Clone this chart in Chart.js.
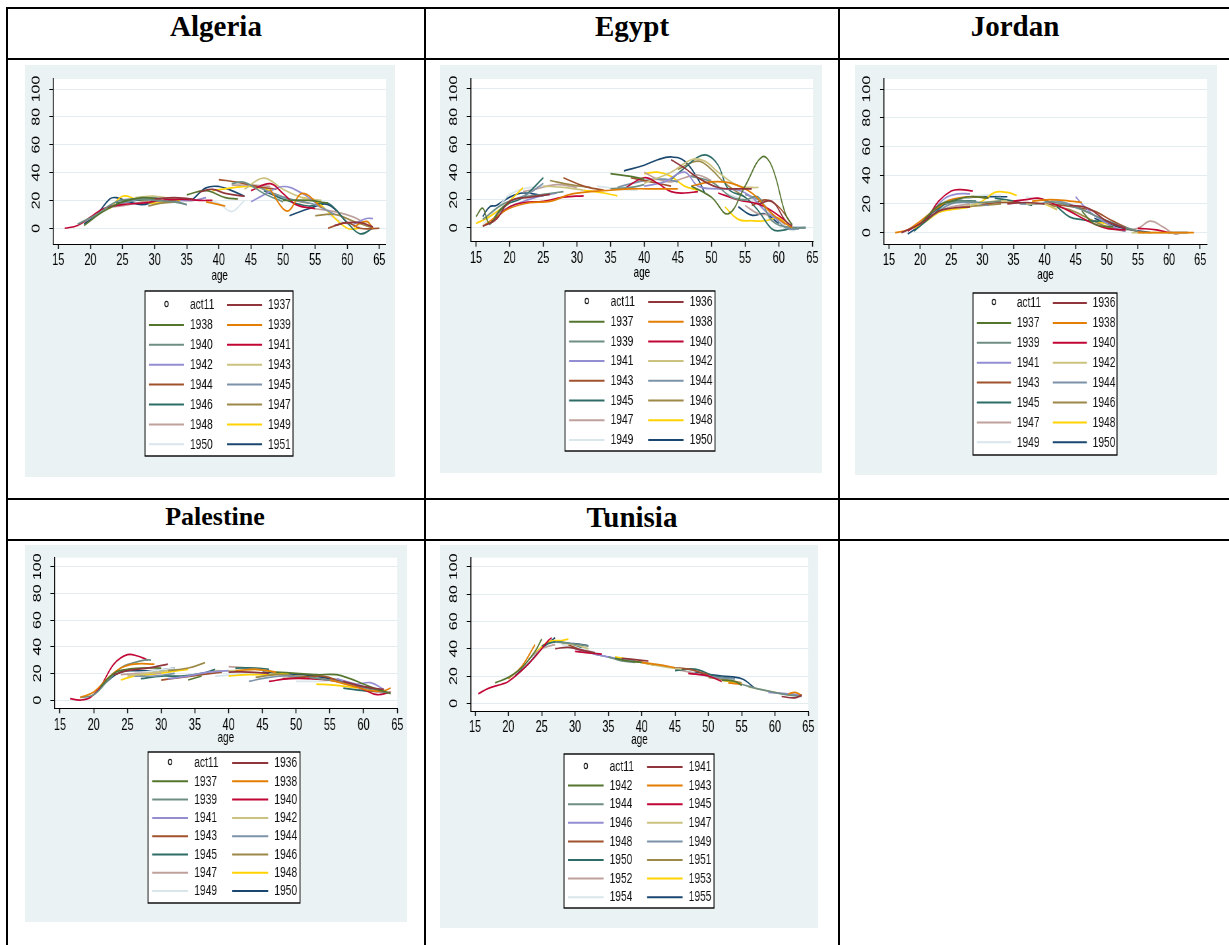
<!DOCTYPE html>
<html>
<head>
<meta charset="utf-8">
<script src="https://cdn.jsdelivr.net/npm/chart.js@4.4.1/dist/chart.umd.min.js"></script>
<style>
body { margin: 0; background: #fff; }
#page { position: relative; width: 1229px; height: 945px; overflow: hidden; }
.ln { position: absolute; background: #000; }
.title { position: absolute; width: 320px; text-align: center; font-family: "Liberation Serif", "Times New Roman", serif; font-weight: bold; color: #000; white-space: nowrap; }
canvas.panel { position: absolute; transform-origin: 0 0; }
</style>
</head>
<body>
<div id="page">
  <div class="ln" style="left:6px;top:7px;width:1223px;height:2px"></div>
  <div class="ln" style="left:6px;top:58px;width:1223px;height:2px"></div>
  <div class="ln" style="left:6px;top:498px;width:1223px;height:2px"></div>
  <div class="ln" style="left:6px;top:539px;width:1223px;height:2px"></div>
  <div class="ln" style="left:6px;top:7px;width:2px;height:938px"></div>
  <div class="ln" style="left:424px;top:7px;width:2px;height:938px"></div>
  <div class="ln" style="left:838px;top:7px;width:2px;height:938px"></div>
</div>
<script>
// chart values
var countries = ['Algeria', 'Egypt', 'Jordan', 'Palestine', 'Tunisia'];
var xTicks = [15, 20, 25, 30, 35, 40, 45, 50, 55, 60, 65];
var yTicks = [0, 20, 40, 60, 80, 100];

var algeriaYears = ['1937', '1938', '1939', '1940', '1941', '1942', '1943', '1944', '1945', '1946', '1947', '1948', '1949', '1950', '1951'];
var algeriaLines = [
    [[[30, 21], [33, 22], [36, 21]], [[37, 26], [39, 28], [41, 25], [44, 23]], [[58, 2], [60, 4], [62, 4], [64, 1]]],
    [[[19, 2], [22, 12], [25, 19], [28, 22], [31, 21]], [[35, 24], [38, 27], [41, 22], [43, 21]], [[50, 20], [54, 20], [57, 18]]],
    [[[38, 19], [40, 17], [41, 16]], [[48, 28], [50, 14], [51, 13], [53, 25], [56, 15]], [[61, 1], [63, 5], [64, 0]]],
    [[[18, 3], [21, 10], [24, 19], [27, 21], [30, 20], [33, 19], [35, 17]], [[42, 32], [44, 33], [47, 25], [50, 19]]],
    [[[16, 0], [18, 2], [20, 8], [22, 14], [25, 17], [28, 18], [31, 20], [34, 21], [37, 20], [39, 20]], [[45, 27], [48, 32], [50, 25], [52, 17], [55, 14]]],
    [[[34, 20], [36, 20], [38, 22]], [[45, 19], [47, 24], [50, 30], [53, 25], [56, 15]], [[61, 3], [63, 7], [64, 7]]],
    [[[27, 22], [30, 23], [33, 21]], [[44, 28], [47, 36], [50, 28], [53, 22], [56, 20]]],
    [[[32, 20], [35, 21]], [[40, 35], [43, 33], [46, 30], [49, 28]], [[57, 0], [60, 4], [62, 0], [65, 0]]],
    [[[23, 16], [26, 19], [29, 22], [32, 21], [35, 17]], [[46, 30], [49, 24], [52, 20], [55, 17], [58, 10]]],
    [[[24, 18], [27, 20], [30, 21]], [[47, 27], [50, 21], [54, 16], [57, 18], [60, 4], [62, -4], [64, 0]]],
    [[[29, 16], [31, 18], [34, 19]], [[48, 26], [51, 21], [54, 18]], [[55, 9], [58, 10], [61, 5], [64, 0]]],
    [[[23, 15], [26, 17], [29, 20]], [[42, 31], [45, 31], [48, 30]], [[55, 14], [58, 12], [61, 8], [63, 3]]],
    [[[23, 14], [25, 23], [27, 21], [30, 18], [33, 20], [36, 20]], [[39, 27], [42, 29], [45, 30], [48, 27]], [[53, 22], [55, 20], [57, 12], [60, 0], [62, 0]]],
    [[[38, 20], [40, 18], [42, 12], [44, 20]], [[57, 10], [60, 3], [62, 1]]],
    [[[19, 3], [21, 10], [23, 21], [24, 22], [26, 19], [28, 17], [30, 19]], [[36, 21], [38, 29], [40, 30], [42, 27], [44, 23]], [[51, 9], [54, 14], [57, 17], [60, 4]]]
];

var egyptYears = ['1936', '1937', '1938', '1939', '1940', '1941', '1942', '1943', '1944', '1945', '1946', '1947', '1948', '1949', '1950'];
var egyptLines = [
    [[[16, 1], [18, 6], [20, 19], [23, 22], [26, 24]], [[44, 49], [46, 43], [48, 36], [51, 29], [54, 28], [56, 28]], [[57, 17], [59, 19], [61, 5], [62, 1]]],
    [[[15, 8], [16, 14], [17, 3], [18.5, 12], [20, 18]], [[35, 39], [38, 37], [40, 35]], [[47, 30], [50, 22], [52.5, 10], [55, 30], [57.5, 51], [59, 44], [61, 10], [62, 2]]],
    [[[16, 1], [18, 8], [20, 14], [23, 18], [26, 19], [29, 24], [32, 26], [35, 27], [38, 28], [42, 28], [45, 28]], [[47, 30], [50, 33], [53, 32], [56, 25], [59, 10], [61, 3], [62, 0]]],
    [[[16, 6], [19, 17], [22, 22], [25, 24], [28, 26]], [[35, 28], [38, 29], [40, 31]], [[47, 37], [50, 33], [53, 22], [55, 20], [57, 22], [59, 5], [62, 0], [64, 0]]],
    [[[17, 3], [20, 15], [22, 18], [25, 19], [28, 22], [31, 23]], [[37, 28], [40, 36], [42, 32], [44, 26], [46, 25], [48, 26]], [[51, 25], [54, 20], [57, 17], [59, 12], [61, 5]]],
    [[[18, 10], [21, 17], [24, 22], [27, 25]], [[40, 30], [43, 33], [46, 40], [48, 30], [51, 28], [54, 27], [56, 22], [58, 12], [60, 5]]],
    [[[25, 30], [28, 29], [31, 27]], [[40, 32], [44, 40], [47, 49], [49, 48], [51, 40], [54, 30], [56, 29], [57, 29]]],
    [[[28, 36], [31, 30], [34, 27]], [[38, 36], [41, 33], [44, 30]], [[56, 16], [58, 20], [60, 15], [62, 2]]],
    [[[20, 19], [23, 25], [25, 32]], [[36, 29], [40, 34], [43, 35], [45, 33]], [[55, 24], [57, 20], [59, 10], [61, 0], [63, -1]]],
    [[[17, 2], [19, 15], [22, 22], [25, 36]], [[44, 35], [46, 43], [48, 51], [49.5, 52], [51, 45], [52.5, 28], [55, 22], [57, 12], [59, -1], [60.5, -2], [62, 0]]],
    [[[26, 34], [29, 31], [32, 29]], [[45, 42], [48, 48], [50, 42], [52, 32], [55, 22]]],
    [[[22, 26], [24, 28], [27, 31], [30, 29]], [[40, 40], [42, 35], [44, 33], [46, 36], [48, 38], [50, 34]], [[55, 16], [57, 10], [59, 9], [61, 2]]],
    [[[15, 3], [17, 8], [19, 15], [21, 24], [22, 29]], [[31, 27], [34, 25], [36, 23]], [[40, 39], [42, 40], [44, 37], [46, 30], [48, 27]], [[52, 15], [54, 6], [56, 5], [58, 5], [60, 7], [61, 3]]],
    [[[16, 2], [19, 19], [20, 24], [22, 28], [25, 30]], [[33, 30], [36, 28], [39, 27]], [[52, 25], [55, 20], [57, 18], [59, 5], [62, -2], [63, 0]]],
    [[[16, 8], [17, 15], [18, 16], [20, 22], [22, 25], [25, 23]], [[37, 41], [40, 45], [42, 49], [44, 51], [46, 48], [48, 35], [49, 25]], [[54, 15], [56, 9], [58, 10], [60, 3]], [[62, 0], [64, 0]]]
];

var jordanYears = ['1936', '1937', '1938', '1939', '1940', '1941', '1942', '1943', '1944', '1945', '1946', '1947', '1948', '1949', '1950'];
var jordanLines = [
    [[[17, 0], [20, 6], [23, 15], [25, 17], [28, 18]], [[34, 20], [37, 21], [40, 20]], [[44, 19], [47, 17], [50, 8], [53, 3]]],
    [[[20, 6], [23, 19], [25, 22], [28, 25], [31, 24]], [[46, 15], [48, 6], [51, 4]]],
    [[[16, 0], [18, 2], [20, 8], [23, 18], [25, 23], [28, 25], [31, 24]], [[38, 22], [41, 23], [44, 22], [46, 21]], [[55, 0], [58, 0], [60, 0], [64, 0]]],
    [[[24, 20], [27, 22], [30, 21], [33, 22]], [[40, 22], [43, 20], [46, 16], [49, 10], [52, 5], [55, 1]]],
    [[[18, 1], [21, 10], [23, 22], [25, 29], [26.5, 30], [28.5, 29]], [[35, 22], [37, 23], [39, 24], [41, 21], [44, 15], [47, 8], [50, 3], [53, 2]], [[55, 3], [58, 2], [60, 0]]],
    [[[22, 15], [24, 24], [26, 27], [28, 27]], [[45, 25], [46, 20], [48, 12], [51, 4], [53, 1]]],
    [[[26, 17], [29, 20], [32, 22], [34, 22]], [[37, 20], [40, 20], [42, 16]], [[54, 0], [57, 0], [60, 0], [63, 0]]],
    [[[30, 20], [33, 21], [36, 21]], [[40, 20], [43, 19], [46, 17], [48, 15], [51, 8], [54, 2], [56, 0]]],
    [[[22, 12], [25, 20], [28, 21], [31, 19]], [[36, 20], [39, 20], [42, 22], [45, 18], [48, 12], [51, 6]]],
    [[[19, 1], [22, 12], [24, 20], [26, 22], [29, 22]], [[32, 24], [35, 22], [38, 19]], [[42, 18], [44, 11], [46, 9], [48, 8], [50, 8], [53, 3], [55, 1]]],
    [[[27, 18], [30, 19], [33, 20]], [[41, 19], [44, 16], [47, 10], [50, 4], [53, 1]]],
    [[[23, 15], [25, 18], [28, 20]], [[36, 21], [39, 20]], [[53, 2], [55, 3], [57, 8], [59, 4], [61, -1], [62, 0]]],
    [[[19, 3], [21, 8], [23, 14], [25, 16], [28, 18], [30, 22], [32, 28], [34, 28], [35.5, 26]], [[40, 20], [42, 16]], [[47, 9], [50, 6], [52, 2]]],
    [[[22, 15], [24, 22], [27, 24], [30, 26], [33, 26]], [[37, 25], [40, 22], [43, 21]]],
    [[[18, -1], [20, 5], [22, 14], [24, 20], [27, 24], [30, 25], [33, 25], [34, 25]], [[48, 10], [51, 5], [54, 2], [57, 0]], [[60, 0], [62, 0], [63, 0]]]
];

var palestineYears = ['1936', '1937', '1938', '1939', '1940', '1941', '1942', '1943', '1944', '1945', '1946', '1947', '1948', '1949', '1950'];
var palestineLines = [
    [[[23, 19], [25, 22], [28, 24], [31, 27]], [[40, 21], [43, 21], [46, 20]], [[57, 14], [60, 10], [63, 8]]],
    [[[21, 10], [23, 20], [25, 23], [27, 24], [30, 24]], [[34, 15], [36, 18]], [[47, 21], [50, 20], [53, 19], [56, 19], [58, 16], [60, 12], [62, 8], [64, 5]]],
    [[[18, 2], [20, 6], [22, 16], [24, 24], [26, 27], [29, 27]], [[41, 22], [44, 23], [47, 21]], [[55, 15], [58, 11], [61, 7], [63, 7], [64, 9]]],
    [[[18, 2], [20, 4], [22, 14], [24, 24], [26, 28], [27.5, 30], [28.5, 30]], [[52, 17], [55, 15], [58, 12], [61, 8], [64, 5]]],
    [[[16.5, 1], [18, 0], [19.5, 2], [21, 10], [23, 27], [25, 34], [26.5, 33], [28, 30]], [[46, 14], [49, 16], [52, 16], [55, 15], [58, 12], [60, 8], [62, 4], [64, 6]]],
    [[[31, 16], [34, 18], [37, 21], [40, 22]], [[56, 16], [59, 12], [61, 13], [63, 8]]],
    [[[25, 18], [28, 20], [31, 22]], [[38, 22], [41, 22], [44, 23], [47, 21]]],
    [[[30, 15], [33, 17], [36, 19], [39, 21]], [[48, 16], [51, 17], [54, 18], [57, 13]]],
    [[[26, 18], [29, 18], [32, 20]], [[43, 14], [46, 17], [49, 18], [52, 16]]],
    [[[27, 16], [30, 18], [33, 18], [36, 20], [38, 23]], [[41, 24], [44, 24], [46, 23]], [[57, 9], [60, 7], [62, 7]]],
    [[[31, 22], [34, 24], [36.5, 28]], [[44, 17], [47, 19], [50, 18], [53, 17]]],
    [[[24, 19], [27, 20], [30, 20]], [[40, 25], [43, 24], [46, 22]], [[59, 8], [62, 6], [64, 5]]],
    [[[24, 15], [26, 18], [28, 19], [31, 21], [34, 23]], [[40, 18], [43, 19], [46, 19], [49, 20]], [[53, 12], [56, 11], [59, 9]]],
    [[[26, 20], [29, 22], [32, 24]], [[38, 18], [41, 19], [44, 20]], [[50, 14], [53, 14], [56, 15]]],
    [[[20, 4], [22, 14], [24, 21], [26, 22], [29, 22], [32, 24]], [[45, 21], [48, 20], [51, 19], [54, 17], [57, 14], [60, 10], [63, 7]]]
];

var tunisiaYears = ['1941', '1942', '1943', '1944', '1945', '1946', '1947', '1948', '1949', '1950', '1951', '1952', '1953', '1954', '1955'];
var tunisiaLines = [
    [[[27, 40], [29, 41], [31, 39], [33, 37]], [[37, 33], [39, 32], [41, 31]], [[61, 5], [63, 4], [64, 6]]],
    [[[18, 15], [20, 19], [22, 26], [24, 38], [25, 47]], [[36, 33], [38, 31], [40, 30]], [[52, 17], [54, 16], [55, 13]]],
    [[[20, 18], [22, 27], [24, 43]], [[40, 30], [43, 28], [45, 26]], [[53, 15], [55, 14]], [[62, 7], [63, 8], [64, 6]]],
    [[[27, 45], [29, 44], [32, 42]], [[35, 34], [37, 31], [39, 30]], [[55, 14], [58, 10], [61, 7], [64, 5]]],
    [[[15.5, 7], [17, 11], [19, 14], [20, 16], [22, 24], [24, 34], [26, 46], [26.5, 48]], [[30, 38], [32, 37], [34, 36]], [[47, 22], [50, 20], [52, 16]]],
    [[[30, 40], [33, 36], [36, 33]], [[59, 8], [62, 7], [64, 6]]],
    [[[28, 44], [30, 43], [32, 40]], [[40, 30], [43, 27], [46, 25]], [[56, 12], [59, 9], [61, 7]]],
    [[[29, 43], [31, 39], [34, 35]], [[45, 26], [47, 25], [50, 21]]],
    [[[33, 36], [36, 33], [39, 31]], [[49, 21], [51, 19], [54, 18]]],
    [[[25, 42], [27, 45], [29, 44], [31, 41]], [[45, 24], [48, 25], [51, 20], [54, 18]]],
    [[[37, 32], [40, 30], [42, 28]], [[50, 19], [53, 17], [55, 15]]],
    [[[23, 32], [25, 40], [27, 43]], [[45, 25], [48, 22], [51, 20]]],
    [[[24, 37], [26, 45], [28, 46], [29, 47]], [[36, 34], [39, 31], [42, 28]], [[52, 17], [54, 15]]],
    [[[28, 43], [31, 40], [34, 36]], [[42, 29], [45, 26], [48, 23]]],
    [[[21, 20], [23, 29], [25, 40], [27, 48]], [[29, 44], [31, 43], [32, 42]], [[46, 25], [49, 22], [52, 20], [55, 18], [57, 11]]]
];

// Stata s2color pstyle colours, p1..p15
var palette = ['#1a476f', '#90353b', '#55752f', '#e37e00', '#6e8e84', '#c10534', '#938dd2', '#cac27e',
    '#a0522d', '#7b92a8', '#2d6d66', '#9c8847', '#bfa19c', '#ffd200', '#d9e6eb'];

// the graphs were squeezed sideways when pasted into the table
var S = 0.66;
var FONT = '"Liberation Sans", Arial, sans-serif';
Chart.defaults.font.family = FONT;
var page = document.getElementById('page');

function toPoints(segments) {
    var pts = [];
    segments.forEach(function (seg, k) {
        if (k > 0) pts.push({ x: seg[0][0], y: null });
        seg.forEach(function (p) { pts.push({ x: p[0], y: p[1] }); });
    });
    return pts;
}

var bgPlugin = {
    id: 'stataBg',
    beforeDraw: function (chart) {
        var ctx = chart.ctx, a = chart.chartArea;
        ctx.save();
        ctx.fillStyle = '#eaf2f3';
        ctx.fillRect(0, 0, chart.width, chart.height);
        ctx.fillStyle = '#fff';
        ctx.fillRect(a.left, a.top, a.right - a.left, a.bottom - a.top);
        ctx.restore();
    }
};

// y labels are vertical in Stata
var yLabelPlugin = {
    id: 'yLabels',
    afterDraw: function (chart) {
        var ctx = chart.ctx, ys = chart.scales.y;
        ctx.save();
        ctx.font = '16px ' + FONT;
        ctx.fillStyle = '#000';
        ctx.textAlign = 'center';
        ctx.textBaseline = 'middle';
        yTicks.forEach(function (v) {
            ctx.save();
            ctx.translate(ys.right - 25, ys.getPixelForValue(v));
            ctx.rotate(-Math.PI / 2);
            ctx.fillText(String(v), 0, 0);
            ctx.restore();
        });
        ctx.restore();
    }
};

var legendPlugin = {
    id: 'stataLegend',
    afterDraw: function (chart, args, o) {
        var ctx = chart.ctx;
        var f = o.w / (148 / S);
        ctx.save();
        ctx.fillStyle = '#fff';
        ctx.fillRect(o.x, o.y, o.w, o.h);
        ctx.strokeStyle = '#000';
        ctx.lineWidth = 1.4;
        ctx.strokeRect(o.x, o.y, o.w, o.h);
        ctx.font = '15.5px ' + FONT;
        ctx.textBaseline = 'middle';
        ctx.textAlign = 'left';
        chart.data.datasets.forEach(function (ds, k) {
            var col = k % 2, row = Math.floor(k / 2);
            var cy = o.y + o.first + row * o.row;
            var k0 = o.x + (col ? 82 : 4) / S * f;
            var k1 = k0 + 35 / S * f;
            var tx = o.x + (col ? 123 : 45) / S * f;
            if (k === 0) {
                ctx.strokeStyle = '#1a1a1a';
                ctx.lineWidth = 1.3;
                ctx.beginPath();
                ctx.arc((k0 + k1) / 2, cy - 1, 2.6, 0, Math.PI * 2);
                ctx.stroke();
            } else {
                ctx.strokeStyle = ds.borderColor;
                ctx.lineWidth = 2;
                ctx.beginPath();
                ctx.moveTo(k0, cy);
                ctx.lineTo(k1, cy);
                ctx.stroke();
            }
            ctx.fillStyle = '#111';
            ctx.fillText(ds.label, tx, cy);
        });
        ctx.restore();
    }
};

function makePanel(cfg) {
    var canvas = document.createElement('canvas');
    canvas.className = 'panel';
    var W = Math.round(cfg.bg.w / S), H = cfg.bg.h;
    canvas.width = W;
    canvas.height = H;
    canvas.style.left = cfg.bg.x + 'px';
    canvas.style.top = cfg.bg.y + 'px';
    canvas.style.transform = 'scaleX(' + S + ')';
    page.appendChild(canvas);

    var plotL = (cfg.plot.l - cfg.bg.x) / S;
    var plotR = (cfg.plot.r - cfg.bg.x) / S;
    var plotT = cfg.plot.t - cfg.bg.y;
    var plotB = cfg.plot.b - cfg.bg.y;
    var xh = cfg.ageOffset + 9;

    var datasets = [{ label: 'act11', data: [], showLine: false, pointRadius: 0, borderColor: '#1a1a1a' }];
    cfg.lines.forEach(function (segs, i) {
        datasets.push({
            label: cfg.years[i],
            data: toPoints(segs),
            borderColor: palette[(i + 1) % 15],
            borderWidth: 1.7,
            tension: 0.4,
            pointRadius: 0,
            spanGaps: false,
            fill: false
        });
    });

    var L = cfg.legend;
    new Chart(canvas, {
        type: 'line',
        data: { datasets: datasets },
        options: {
            responsive: false,
            animation: false,
            devicePixelRatio: 1,
            events: [],
            layout: { padding: { left: 0, top: plotT, right: W - plotR, bottom: H - plotB - xh } },
            plugins: {
                legend: { display: false },
                tooltip: { enabled: false },
                stataLegend: {
                    x: (L.x - cfg.bg.x) / S, y: L.y - cfg.bg.y, w: L.w / S, h: L.h,
                    first: L.first, row: L.row
                }
            },
            scales: {
                x: {
                    type: 'linear',
                    min: cfg.xMin,
                    max: cfg.xMax,
                    afterBuildTicks: function (s) { s.ticks = xTicks.map(function (v) { return { value: v }; }); },
                    afterFit: function (s) { s.height = xh; },
                    ticks: { font: { size: 16.5 }, color: '#000', maxRotation: 0, autoSkip: false, padding: 2 },
                    grid: { drawOnChartArea: false, drawTicks: true, tickLength: 5, tickColor: '#000', tickWidth: 1.5 },
                    border: { color: '#000', width: 1 },
                    title: { display: true, text: 'age', font: { size: 15 }, color: '#000', padding: 0 }
                },
                y: {
                    type: 'linear',
                    min: cfg.yMin,
                    max: cfg.yMax,
                    afterBuildTicks: function (s) { s.ticks = yTicks.map(function (v) { return { value: v }; }); },
                    afterFit: function (s) { s.width = plotL; },
                    ticks: { display: false },
                    grid: { color: '#e3edf0', lineWidth: 1, tickLength: 6, tickColor: '#000', tickWidth: 1 },
                    border: { color: '#000', width: 1.5 }
                }
            }
        },
        plugins: [bgPlugin, yLabelPlugin, legendPlugin]
    });
}

function addTitle(text, cx, top, size) {
    var d = document.createElement('div');
    d.className = 'title';
    d.textContent = text;
    d.style.left = (cx - 160) + 'px';
    d.style.top = top + 'px';
    d.style.fontSize = size + 'px';
    d.style.lineHeight = size + 'px';
    page.appendChild(d);
}

addTitle(countries[0], 216, 12, 29);
addTitle(countries[1], 632, 12, 29);
addTitle(countries[2], 1015, 12, 29);
addTitle(countries[3], 215, 504, 26);
addTitle(countries[4], 632, 503, 29);

makePanel({
    years: algeriaYears, lines: algeriaLines,
    bg: { x: 25, y: 65, w: 370, h: 412 },
    plot: { l: 53.3, t: 79, r: 386, b: 244 },
    xMin: 14.22, xMax: 66.04, yMin: -11.3, yMax: 107.2, ageOffset: 32,
    legend: { x: 145, y: 291, w: 148, h: 165, first: 14, row: 19.9 }
});
makePanel({
    years: egyptYears, lines: egyptLines,
    bg: { x: 440, y: 65, w: 382, h: 408 },
    plot: { l: 470.7, t: 79, r: 813, b: 241.7 },
    xMin: 14.21, xMax: 65.1, yMin: -10.1, yMax: 107.2, ageOffset: 31,
    legend: { x: 565, y: 291, w: 150, h: 160, first: 11, row: 19.7 }
});
makePanel({
    years: jordanYears, lines: jordanLines,
    bg: { x: 855, y: 65, w: 362, h: 410 },
    plot: { l: 884, t: 79, r: 1207, b: 244 },
    xMin: 14.2, xMax: 66.1, yMin: -7.9, yMax: 107, ageOffset: 31,
    legend: { x: 973, y: 293, w: 144, h: 162, first: 10, row: 19.9 }
});
makePanel({
    years: palestineYears, lines: palestineLines,
    bg: { x: 25, y: 545, w: 382, h: 377 },
    plot: { l: 54.3, t: 557.7, r: 397.3, b: 708.3 },
    xMin: 14.16, xMax: 65, yMin: -6.2, yMax: 106.75, ageOffset: 29.4,
    legend: { x: 148, y: 752, w: 152, h: 151, first: 11, row: 18.3 }
});
makePanel({
    years: tunisiaYears, lines: tunisiaLines,
    bg: { x: 440, y: 545, w: 378, h: 383 },
    plot: { l: 470.7, t: 557.7, r: 808.3, b: 711 },
    xMin: 14.35, xMax: 65, yMin: -5.6, yMax: 106.6, ageOffset: 29,
    legend: { x: 564, y: 754, w: 150, h: 154, first: 13, row: 18.6 }
});
</script>
</body>
</html>
